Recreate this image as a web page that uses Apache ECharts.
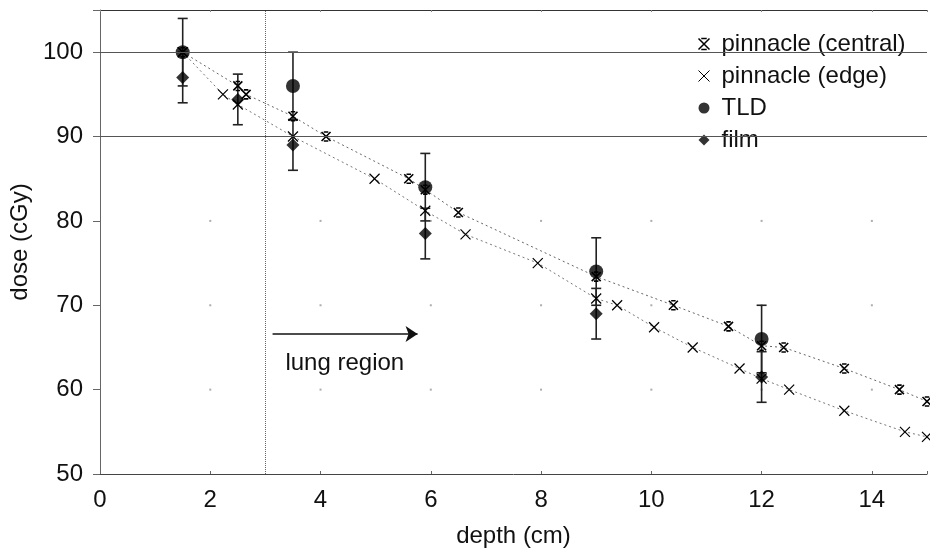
<!DOCTYPE html>
<html><head><meta charset="utf-8">
<script src="https://cdn.jsdelivr.net/npm/echarts@6/dist/echarts.min.js"></script>
<style>html,body{margin:0;padding:0;background:#fff}#c{width:930px;height:553px}</style>
</head><body><div id="c"></div>
<script>
// ---- data ----
const xTickValues = [0, 2, 4, 6, 8, 10, 12, 14];
const yTickValues = [50, 60, 70, 80, 90, 100];
const dotX = [2, 4, 6, 8, 10, 12, 14];
const dotY = [60, 70, 80];

const centralX = [1.5, 2.5, 2.65, 3.5, 4.1, 5.6, 5.9, 6.5, 9.0, 10.4, 11.4, 12.0, 12.4, 13.5, 14.5, 15.0];
const centralY = [100, 96, 95, 92.4, 90, 85, 83.7, 81, 73.4, 70, 67.5, 65.2, 65, 62.5, 60, 58.6];

const edgeX = [1.5, 2.23, 2.5, 3.5, 4.98, 5.9, 6.63, 7.94, 9.0, 9.38, 10.05, 10.75, 11.6, 12.0, 12.5, 13.5, 14.6, 15.0];
const edgeY = [100, 95, 93.8, 90, 85, 81.2, 78.4, 75, 70.8, 70, 67.4, 65, 62.5, 61.3, 60, 57.5, 55, 54.4];

const tldX = [1.5, 3.5, 5.9, 9.0, 12.0];
const tldY = [100, 96, 84, 74, 66];
const tldErr = [4, 4, 4, 4, 4];

const filmX = [1.5, 2.5, 3.5, 5.9, 9.0, 12.0];
const filmY = [97, 94.4, 89, 78.5, 69, 61.5];
const filmErr = [3, 3, 3, 3, 3, 3];

const solidGridY = [100, 90];
const lungBoundaryX = 3;
const arrowStart = [3.13, 66.6];
const arrowEnd = [5.76, 66.6];
const lungLabelPos = [4.44, 63.1];
const lungLabel = 'lung region';

// ---- chart ----
const FONT = "'Liberation Sans', Arial, sans-serif";
const FS = 24;
const zip = (a, b) => a.map((v, i) => [v, b[i]]);
const zip3 = (a, b, c) => a.map((v, i) => [v, b[i], c[i]]);

const dots = [];
dotX.forEach(x => dotY.forEach(y => dots.push([x, y])));

const centralSym = 'path://M0,0L10,10M10,0L0,10M2.5,0L7.5,0M2.5,10L7.5,10';
const edgeSym = 'path://M0,0L10,10M10,0L0,10';

function errRender(params, api) {
  const x = api.value(0), y = api.value(1), e = api.value(2);
  const top = api.coord([x, y + e]);
  const bot = api.coord([x, y - e]);
  const h = 5;
  const st = { stroke: '#222', lineWidth: 1.6 };
  return {
    type: 'group',
    children: [
      { type: 'line', shape: { x1: top[0], y1: top[1], x2: bot[0], y2: bot[1] }, style: st },
      { type: 'line', shape: { x1: top[0] - h, y1: top[1], x2: top[0] + h, y2: top[1] }, style: st },
      { type: 'line', shape: { x1: bot[0] - h, y1: bot[1], x2: bot[0] + h, y2: bot[1] }, style: st }
    ]
  };
}

const chart = echarts.init(document.getElementById('c'), null, { renderer: 'canvas' });
chart.setOption({
  animation: false,
  backgroundColor: '#fff',
  textStyle: { fontFamily: FONT },
  grid: { left: 97, right: -4, top: 10, bottom: 76 },
  legend: {
    orient: 'vertical',
    left: 683, top: 25,
    padding: [7, 10, 5, 13],
    itemGap: 8,
    itemWidth: 11, itemHeight: 11,
    backgroundColor: '#fff',
    textStyle: { fontFamily: FONT, fontSize: FS, color: '#111', lineHeight: 22, padding: [0, 0, 0, 7] },
    data: [
      { name: 'pinnacle (central)', icon: centralSym, itemStyle: { color: 'none', borderColor: '#000', borderWidth: 1.5 } },
      { name: 'pinnacle (edge)', icon: edgeSym, itemStyle: { color: 'none', borderColor: '#000', borderWidth: 1 } },
      { name: 'TLD', icon: 'circle' },
      { name: 'film', icon: 'diamond' }
    ]
  },
  xAxis: [{
    type: 'value', min: 0, max: 15, interval: 2,
    name: 'depth (cm)', nameLocation: 'middle', nameGap: 50,
    nameTextStyle: { fontFamily: FONT, fontSize: FS, color: '#111' },
    axisLine: { show: true, lineStyle: { color: '#444', width: 1 } },
    axisTick: { show: true, inside: true, length: 3, lineStyle: { color: '#666' } },
    axisLabel: { fontFamily: FONT, fontSize: FS, color: '#111', margin: 14,
      formatter: v => (xTickValues.indexOf(v) >= 0 ? String(v) : '') },
    splitLine: { show: false }
  }, {
    type: 'value', min: 0, max: 15, interval: 2, position: 'top',
    axisLine: { show: true, lineStyle: { color: '#333', width: 1.2 } },
    axisTick: { show: true, inside: true, length: 2, lineStyle: { color: '#888' } },
    axisLabel: { show: false }, splitLine: { show: false }
  }],
  yAxis: {
    type: 'value', min: 50, max: 105, interval: 10,
    name: 'dose (cGy)', nameLocation: 'middle', nameGap: 68,
    nameTextStyle: { fontFamily: FONT, fontSize: FS, color: '#111' },
    axisLine: { show: true, lineStyle: { color: '#666', width: 1 } },
    axisTick: { show: true, inside: false, length: 7, lineStyle: { color: '#666' } },
    axisLabel: { fontFamily: FONT, fontSize: FS, color: '#111', margin: 17,
      formatter: v => (yTickValues.indexOf(v) >= 0 ? String(v) : '') },
    splitLine: { show: false }
  },
  series: [
    {
      name: 'griddots', type: 'scatter', data: dots, symbol: 'rect', symbolSize: 2,
      itemStyle: { color: '#999' }, silent: true, z: 1,
      markLine: {
        silent: true, symbol: 'none', label: { show: false },
        data: solidGridY.map(v => ({ yAxis: v, lineStyle: { color: '#555', width: 1.2, type: 'solid' } }))
          .concat([{ xAxis: lungBoundaryX, lineStyle: { color: '#666', width: 1, type: [1, 1] } }])
      }
    },
    {
      name: 'annot', type: 'scatter', data: [], silent: true,
      markLine: {
        silent: true, symbol: ['none', 'arrow'], symbolSize: 12,
        label: { show: false },
        lineStyle: { color: '#111', width: 1.5, type: 'solid' },
        data: [[{ coord: arrowStart }, { coord: arrowEnd }]]
      },
      markPoint: {
        silent: true, symbol: 'rect', symbolSize: 1, itemStyle: { color: 'rgba(0,0,0,0)' },
        label: { show: true, formatter: lungLabel, fontFamily: FONT, fontSize: FS, color: '#111', position: 'inside' },
        data: [{ coord: lungLabelPos }]
      }
    },
    {
      name: 'pinnacle (central)', type: 'line', data: zip(centralX, centralY),
      symbol: centralSym, symbolSize: 9, showAllSymbol: true,
      itemStyle: { color: 'none', borderColor: '#000', borderWidth: 1.6 },
      lineStyle: { color: '#666', width: 1, type: [2, 3] }, z: 3
    },
    {
      name: 'pinnacle (edge)', type: 'line', data: zip(edgeX, edgeY),
      symbol: edgeSym, symbolSize: 10, showAllSymbol: true,
      itemStyle: { color: 'none', borderColor: '#000', borderWidth: 1.2 },
      lineStyle: { color: '#777', width: 1, type: [2, 3] }, z: 3
    },
    {
      name: 'tldErr', type: 'custom', renderItem: errRender, data: zip3(tldX, tldY, tldErr), z: 2, silent: true
    },
    {
      name: 'filmErr', type: 'custom', renderItem: errRender, data: zip3(filmX, filmY, filmErr), z: 2, silent: true
    },
    {
      name: 'TLD', type: 'scatter', data: zip(tldX, tldY), symbol: 'circle', symbolSize: 14,
      itemStyle: { color: '#000' }, z: 4
    },
    {
      name: 'film', type: 'scatter', data: zip(filmX, filmY), symbol: 'diamond', symbolSize: 13,
      itemStyle: { color: '#000' }, z: 4
    }
  ]
});
</script>
</body></html>
